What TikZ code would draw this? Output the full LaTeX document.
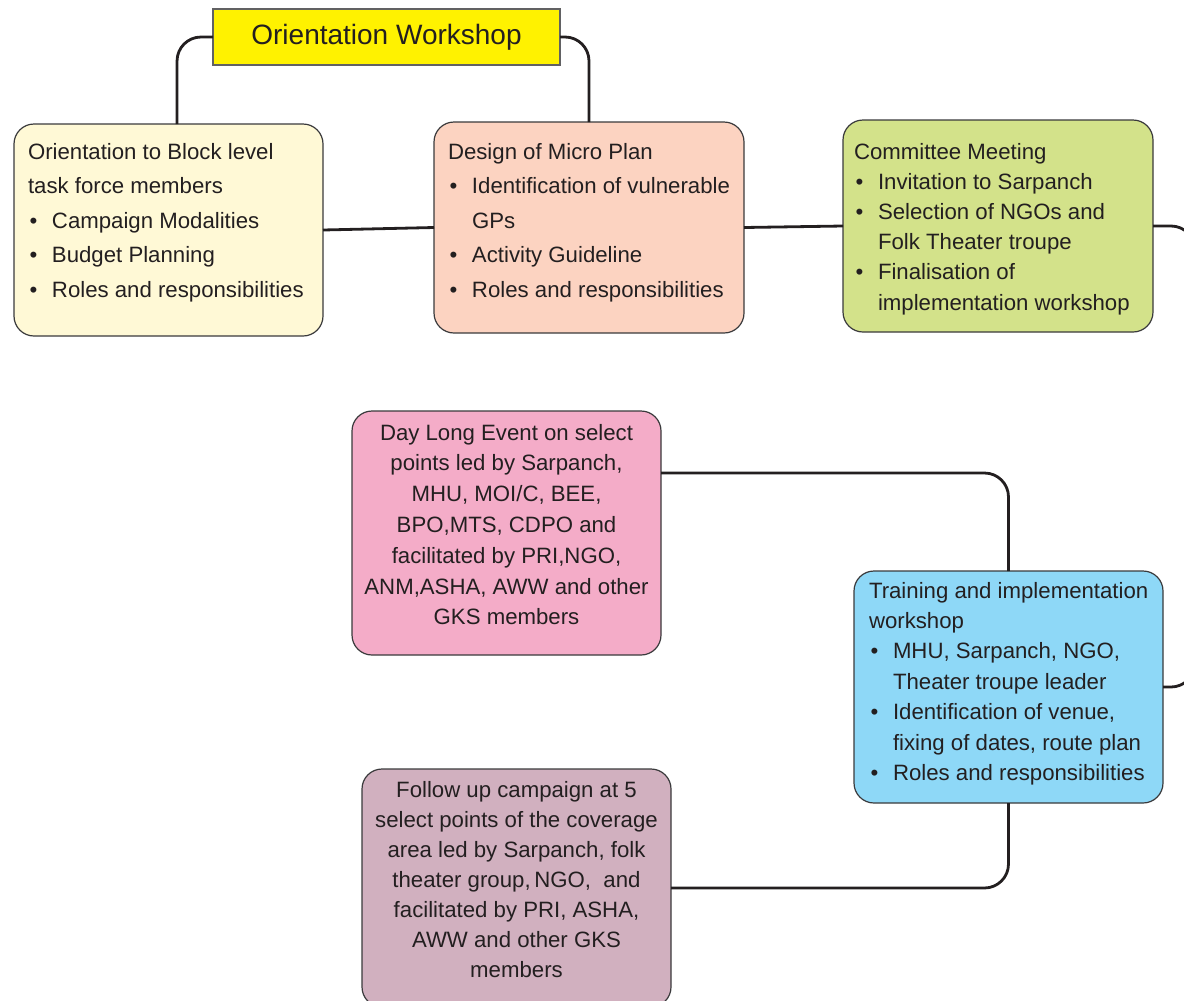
\documentclass[tikz,border=0pt]{standalone}
\usepackage{fontspec}
\setmainfont{Liberation Sans}
\usetikzlibrary{calc}
\newdimen\px \px=0.75pt
\definecolor{txt}{HTML}{231F20}
\definecolor{bord}{HTML}{3A3A3C}
\definecolor{owfill}{HTML}{FFF200}
\definecolor{fa}{HTML}{FFF9D6}
\definecolor{fb}{HTML}{FCD3C1}
\definecolor{fc}{HTML}{D3E28A}
\definecolor{fd}{HTML}{F4ACC8}
\definecolor{fe}{HTML}{8ED8F7}
\definecolor{ff}{HTML}{D1B0BF}
\newcommand\bul{\makebox[24\px][l]{\hspace{1.5\px}\textbullet}}
\newcommand\cont{\hspace*{24\px}}
% #1 width, #2 height, #3 left pad, #4 first baseline, #5 baselineskip, #6 text
\newcommand\lbox[6]{\parbox[c][#2\px][t]{#1\px}{\fontsize{16.65pt}{#5}\selectfont\color{txt}\raggedright\leftskip=#3\px\rightskip=-60\px plus 1fil\relax\rule{0pt}{#4\px}#6\par}}
% #1 width, #2 height, #3 first baseline, #4 baselineskip, #5 text
\newcommand\cbox[5]{\parbox[c][#2\px][t]{#1\px}{\fontsize{16.65pt}{#4}\selectfont\color{txt}\centering\leftskip=-40\px plus 1fil\rightskip=-40\px plus 1fil\relax\rule{0pt}{#3\px}#5\par}}
\tikzset{
  stepbox/.style={draw=bord, line width=0.9pt, rounded corners=15pt, inner sep=0pt, outer sep=0pt, anchor=north west},
  owbox/.style={draw=bord!80, line width=0.8pt, fill=owfill, minimum width=260.25pt, minimum height=42pt, inner sep=0pt, outer sep=0pt, font=\fontsize{21pt}{25pt}\selectfont, text=txt},
  conn/.style={draw=txt, line width=2.1pt, rounded corners=18pt}
}
\begin{document}
\begin{tikzpicture}[x=0.75pt,y=-0.75pt]
\useasboundingbox (0,0) rectangle (1184,1000);
\clip (0,0) rectangle (1184,1000);

\node[owbox] (ow) at (386.5,37) {Orientation Workshop};

\node[stepbox, fill=fa] (b1) at (14,124) {\lbox{309}{212}{14}{35}{25.9pt}{%
Orientation to Block level\\
task force members\\
\bul Campaign Modalities\\
\bul Budget Planning\\
\bul Roles and responsibilities}};

\node[stepbox, fill=fb] (b2) at (434,122) {\lbox{310}{211}{14}{37}{25.9pt}{%
Design of Micro Plan\\
\bul Identification of vulnerable\\
\cont GPs\\
\bul Activity Guideline\\
\bul Roles and responsibilities}};

\node[stepbox, fill=fc] (b3) at (843,120) {\lbox{310}{212}{11}{39}{22.65pt}{%
Committee Meeting\\
\bul Invitation to Sarpanch\\
\bul Selection of NGOs and\\
\cont Folk Theater troupe\\
\bul Finalisation of\\
\cont implementation workshop}};

\node[stepbox, fill=fd] (dl) at (352,411) {\cbox{309}{244}{29}{23.1pt}{%
Day Long Event on select\\
points led by Sarpanch,\\
MHU, MOI/C, BEE,\\
BPO,MTS, CDPO and\\
facilitated by PRI,NGO,\\
ANM,ASHA, AWW and other\\
GKS members}};

\node[stepbox, fill=fe] (ti) at (854,571) {\lbox{309}{232}{15}{27}{22.8pt}{%
Training and implementation\\
workshop\\
\bul MHU, Sarpanch, NGO,\\
\cont Theater troupe leader\\
\bul Identification of venue,\\
\cont fixing of dates, route plan\\
\bul Roles and responsibilities}};

\node[stepbox, fill=ff] (fu) at (362,769) {\cbox{309}{238}{28}{22.5pt}{%
Follow up campaign at 5\\
select points of the coverage\\
area led by Sarpanch, folk\\
theater group,\,NGO, \ and\\
facilitated by PRI, ASHA,\\
AWW and other GKS\\
members}};

\draw[conn] (ow.west) -| ([xshift=6.4pt]b1.north);
\draw[conn] (ow.east) -| (b2.north);
\draw[conn] (b1.east) -- (b2.west);
\draw[conn] (b2.east) -- (b3.west);
\draw[conn] (b3.east) -- ++(42,0) |- (ti.east);
\draw[conn] ($(dl.north east)+(0,62)$) -| (ti.north);
\draw[conn] (ti.south) |- (fu.east);
\end{tikzpicture}
\end{document}
